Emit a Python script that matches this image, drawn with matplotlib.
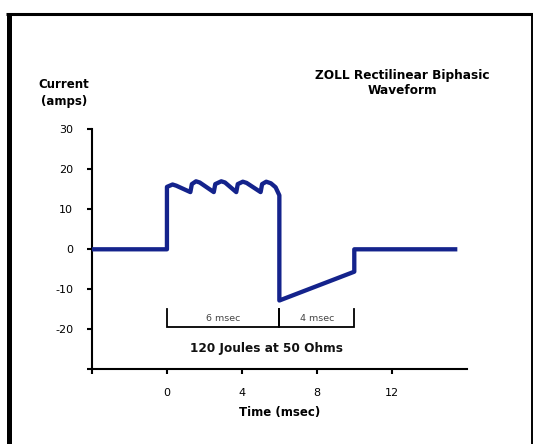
import matplotlib
matplotlib.use("Agg")
import matplotlib.pyplot as plt
from matplotlib.lines import Line2D

# Rectilinear biphasic defibrillation waveform (current vs. time)
time_ms = [-4.0, 0.0, 0.0, 0.3, 0.5, 1.25, 1.33, 1.55, 1.75, 2.5, 2.58, 2.9,
           3.1, 3.7, 3.78, 4.05, 4.25, 5.0, 5.08, 5.3, 5.55, 5.8, 6.0, 6.0,
           10.0, 10.0, 15.5]
current_a = [0.0, 0.0, 15.6, 16.2, 15.9, 14.3, 16.3, 17.0, 16.7, 14.3, 16.3, 17.0,
             16.7, 14.3, 16.3, 16.9, 16.6, 14.3, 16.3, 16.9, 16.5, 15.5, 13.5, -12.8,
             -5.6, 0.0, 0.0]

x_ticks = [-4, 0, 4, 8, 12]
x_tick_labels = ["", "0", "4", "8", "12"]
y_ticks = [-30, -20, -10, 0, 10, 20, 30]
y_tick_labels = ["", "-20", "-10", "0", "10", "20", "30"]

# Phase duration brackets: (start, end, label)
phase_starts = [0, 6]
phase_ends = [6, 10]
phase_labels = ["6 msec", "4 msec"]

W, H = 533, 444
fig = plt.figure(figsize=(W / 100, H / 100), dpi=100)
fig.patch.set_facecolor("white")

ax = fig.add_axes([92 / W, 1 - 369.3 / H, (466.7 - 92) / W, (369.3 - 129.3) / H])
ax.set_xlim(-4, 16)
ax.set_ylim(-30, 30)

wave_color = "#14238c"
ax.plot(time_ms, current_a, color=wave_color, lw=3.1,
        solid_joinstyle="round", solid_capstyle="butt", clip_on=False, zorder=3)

for side in ("top", "right"):
    ax.spines[side].set_visible(False)
for side in ("left", "bottom"):
    ax.spines[side].set_linewidth(1.5)
    ax.spines[side].set_color("black")

ax.set_xticks(x_ticks)
ax.set_xticklabels(x_tick_labels)
ax.set_yticks(y_ticks)
ax.set_yticklabels(y_tick_labels)
ax.tick_params(axis="both", direction="out", length=3.5, width=1.5,
               labelsize=8, colors="black", pad=10)
ax.tick_params(axis="y", pad=10)

ax.set_xlabel("Time (msec)", fontsize=8.5, fontweight="bold", labelpad=6)

# Duration brackets below the waveform
bracket_y = -19.5
bracket_top = -15.0
for s, e, lab in zip(phase_starts, phase_ends, phase_labels):
    ax.plot([s, s, e, e], [bracket_top, bracket_y, bracket_y, bracket_top],
            color="black", lw=1.3, solid_joinstyle="miter", zorder=2)
    ax.text((s + e) / 2, -17.2, lab, ha="center", va="center",
            fontsize=6.8, color="#444444")

ax.text(5.3, -24.8, "120 Joules at 50 Ohms", ha="center", va="center",
        fontsize=8.7, fontweight="bold", color="#111111")

# Titles
fig.text(64 / W, 1 - 85 / H, "Current", ha="center", va="center",
         fontsize=8.5, fontweight="bold")
fig.text(64 / W, 1 - 101 / H, "(amps)", ha="center", va="center",
         fontsize=8.5, fontweight="bold")
fig.text(402 / W, 1 - 75 / H, "ZOLL Rectilinear Biphasic", ha="center",
         va="center", fontsize=8.7, fontweight="bold")
fig.text(402 / W, 1 - 90 / H, "Waveform", ha="center", va="center",
         fontsize=8.7, fontweight="bold")

# Surrounding frame (left, top, right edges)
fig.add_artist(Line2D([8.5 / W, 8.5 / W], [0, 1 - 13 / H], color="black",
                      lw=3.6, solid_capstyle="butt", transform=fig.transFigure))
fig.add_artist(Line2D([6 / W, 1], [1 - 14.5 / H, 1 - 14.5 / H], color="black",
                      lw=2.2, solid_capstyle="butt", transform=fig.transFigure))
fig.add_artist(Line2D([532 / W, 532 / W], [0, 1 - 13 / H], color="black",
                      lw=1.4, solid_capstyle="butt", transform=fig.transFigure))

fig.savefig("out.png", dpi=100)
